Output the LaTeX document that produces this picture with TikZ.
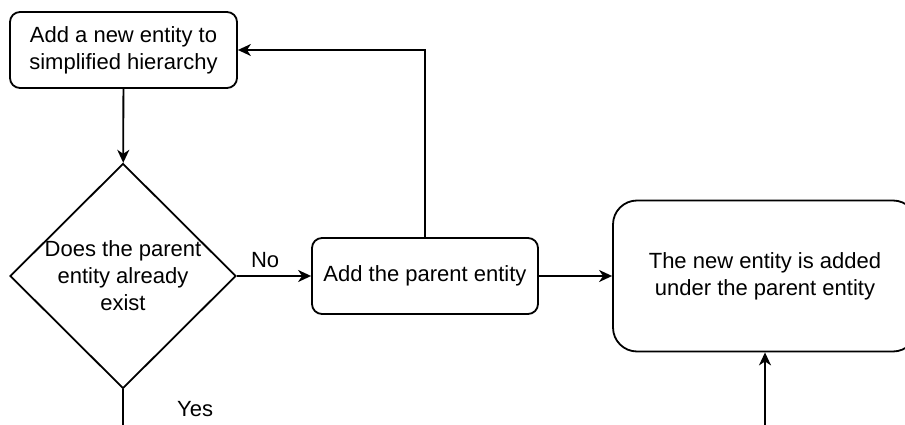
\documentclass[tikz,border=0pt]{standalone}
\usepackage{fontspec}
\setmainfont{Liberation Sans}
\usetikzlibrary{arrows.meta, shapes.geometric, positioning}

\begin{document}
\begin{tikzpicture}[x=1pt, y=-1pt, line width=1.8pt,
    >={Stealth[length=13pt, width=12pt, inset=4pt]},
    every node/.style={font=\fontsize{22}{27}\selectfont, align=center},
    stepbox/.style={draw, rounded corners=10pt, inner sep=0pt},
    decision/.style={draw, diamond, inner sep=0pt, minimum width=226pt, minimum height=225pt}]
  \useasboundingbox (0,0) rectangle (905,425);

  % Boxes
  \node[stepbox, minimum width=227pt, minimum height=76pt] (addnew) at (123.5,50) {Add a new entity to\\simplified hierarchy};
  \node[decision] (exists) at (123,276) {};
  \node (existstext) at (exists) {Does the parent\\entity already\\exist};
  \node[stepbox, minimum width=226pt, minimum height=76pt] (addparent) at (425,276) {Add the parent entity};
  \node[stepbox, rounded corners=24pt, minimum width=304pt, minimum height=151pt] (added) at (765,276) {The new entity is added\\under the parent entity};

  % Free ends
  \coordinate (yesend) at (123,425);
  \coordinate (addedend) at (765,425);

  % Connectors
  \draw[->] (addnew) -- (exists);
  \draw[->] (exists.east) -- node[pos=0.38, above=4pt] {No} (addparent.west);
  \draw (exists.south) -- node[pos=0.55, right=50pt] {Yes} (yesend);
  \draw[->] (addparent.north) |- (addnew.east);
  \draw[->] (addparent.east) -- (added.west);
  \draw[->] (addedend) -- (added.south);
\end{tikzpicture}
\end{document}
